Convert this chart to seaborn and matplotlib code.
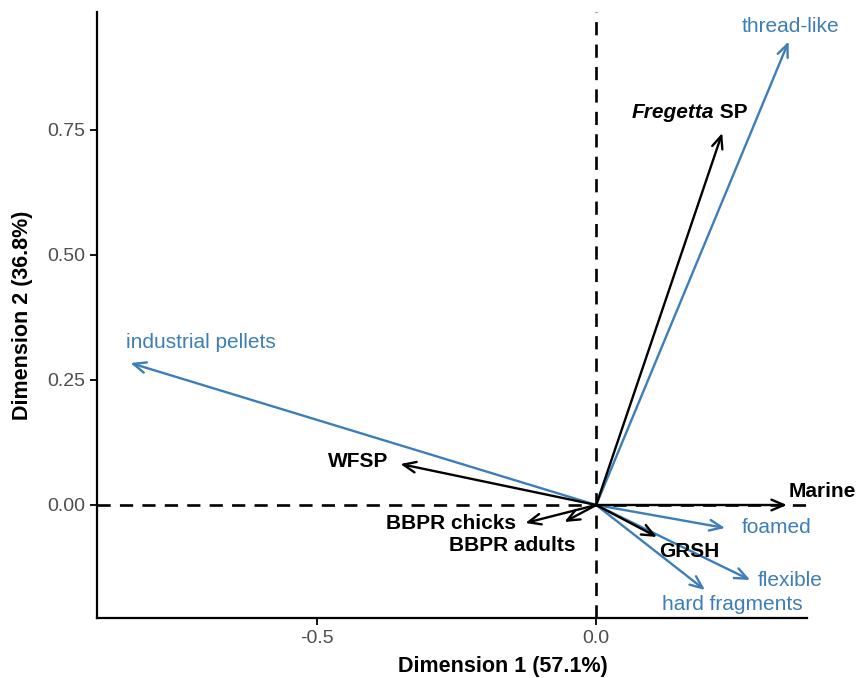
import seaborn as sns
import matplotlib.pyplot as plt

# species / source vectors (black)
sp_names = ["Marine", "WFSP", "BBPR chicks", "BBPR adults", "GRSH"]
sp_x = [0.342, -0.351, -0.127, -0.057, 0.109]
sp_y = [0.000, 0.082, -0.036, -0.034, -0.064]
freg_x = 0.226
freg_y = 0.744

# plastic type vectors (blue)
pl_names = ["industrial pellets", "thread-like", "foamed", "flexible", "hard fragments"]
pl_x = [-0.835, 0.345, 0.231, 0.276, 0.195]
pl_y = [0.284, 0.927, -0.046, -0.150, -0.170]

# label positions (centre of text)
sp_lab = [(0.405, 0.027), (-0.427, 0.086), (-0.260, -0.038), (-0.150, -0.082), (0.167, -0.094)]
pl_lab = [(-0.708, 0.325), (0.349, 0.958), (0.323, -0.046), (0.348, -0.152), (0.244, -0.200)]

sns.set_theme(style="ticks")
plt.rcParams['font.family'] = ['Liberation Sans', 'DejaVu Sans']

blue = "#3D7DB8"

fig = plt.figure(figsize=(8.56, 6.78), dpi=100)
ax = fig.add_axes([0.1133, 0.0885, 0.8295, 0.8938])

ax.set_xlim(-0.895, 0.378)
ax.set_ylim(-0.226, 0.986)

ax.axhline(0, color="black", lw=1.9, ls=(0, (5, 3.5)), zorder=1)
ax.axvline(0, color="black", lw=1.9, ls=(0, (5, 3.5)), zorder=1)

def arrow(x, y, col):
    ax.annotate("", xy=(x, y), xytext=(0, 0),
                arrowprops=dict(arrowstyle="->,head_length=0.75,head_width=0.32",
                                color=col, lw=1.7, shrinkA=0, shrinkB=0),
                zorder=3)

for x, y in zip(pl_x, pl_y):
    arrow(x, y, blue)
for x, y in zip(sp_x, sp_y):
    arrow(x, y, "black")
arrow(freg_x, freg_y, "black")

for name, (lx, ly) in zip(pl_names, pl_lab):
    ax.text(lx, ly, name, color=blue, fontsize=15, ha="center", va="center",
            clip_on=False)
for name, (lx, ly) in zip(sp_names, sp_lab):
    ax.text(lx, ly, name, color="black", fontsize=15, fontweight="bold",
            ha="center", va="center", clip_on=False)
ax.text(0.211, 0.784, "Fregetta", fontsize=15, fontweight="bold", style="italic",
        ha="right", va="center", color="black")
ax.text(0.211, 0.784, " SP", fontsize=15, fontweight="bold", ha="left", va="center",
        color="black")

ax.set_xticks([-0.5, 0.0])
ax.set_xticklabels(["-0.5", "0.0"])
ax.set_yticks([0.0, 0.25, 0.5, 0.75])
ax.set_yticklabels(["0.00", "0.25", "0.50", "0.75"])
ax.tick_params(labelsize=14, labelcolor="#4D4D4D", length=5, width=1.3, color="black")
for s in ["left", "bottom"]:
    ax.spines[s].set_linewidth(1.6)
    ax.spines[s].set_color("black")
sns.despine(ax=ax)

ax.set_xlabel("Dimension 1 (57.1%)", fontsize=15.5, fontweight="bold", color="black")
ax.set_ylabel("Dimension 2 (36.8%)", fontsize=15.5, fontweight="bold", color="black")
ax.xaxis.set_label_coords(0.572, -0.062)
ax.yaxis.set_label_coords(-0.09, 0.5)

fig.savefig("out.png", dpi=100)
